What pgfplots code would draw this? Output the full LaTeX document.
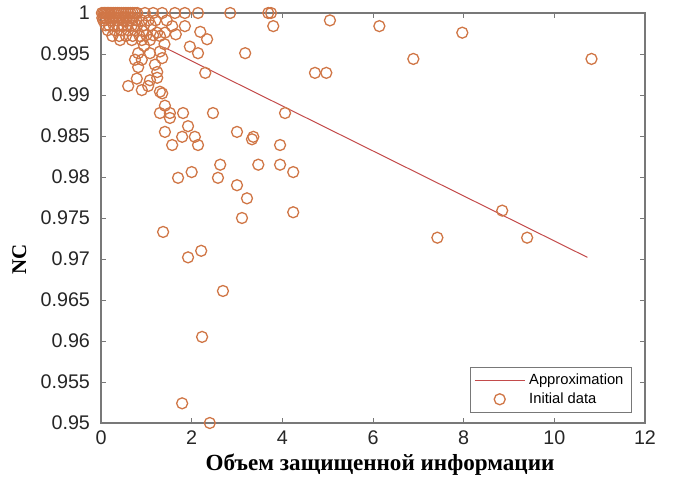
\documentclass[border=0pt]{standalone}
\usepackage{pgfplots}
\pgfplotsset{compat=1.18}
\usepackage{fontspec}
\setmainfont{Liberation Sans}
\newfontfamily\lserif{Liberation Serif}

\definecolor{dotc}{RGB}{208,118,70}
\definecolor{linec}{RGB}{195,75,75}
\definecolor{axc}{RGB}{120,120,120}

\begin{document}
\begin{tikzpicture}
\begin{axis}[
  name=ax,
  scale only axis,
  width=272bp, height=205bp,
  xmin=0, xmax=12, ymin=0.95, ymax=1,
  xtick={0,2,...,12},
  ytick={0.95,0.955,0.96,0.965,0.97,0.975,0.98,0.985,0.99,0.995,1},
  yticklabels={0.95,0.955,0.96,0.965,0.97,0.975,0.98,0.985,0.99,0.995,1},
  /pgf/number format/assume math mode=true,
  tick label style={font=\fontsize{9.9}{11}\selectfont, color=black!85},
  yticklabel style={xshift=-2bp},
  xticklabel style={yshift=-0.5bp},
  tick align=inside,
  major tick length=2.5bp,
  every tick/.style={axc, line width=0.5bp},
  axis line style={axc, line width=0.6bp},
  clip=false,
  xlabel={\lserif\bfseries Объем защищенной информации},
  ylabel={\lserif\bfseries NC},
  xlabel style={at={(axis description cs:0.513,-0.102)}, anchor=center, font=\fontsize{11.6}{13}\selectfont},
  ylabel style={at={(axis description cs:-0.150,0.398)}, anchor=center, font=\fontsize{10.5}{12}\selectfont},
  legend style={at={(rel axis cs:0.976,0.0244)}, anchor=south east,
    font=\fontsize{7.4}{8.5}\selectfont, draw=axc, line width=0.5bp,
    inner xsep=2bp, inner ysep=1.2bp, row sep=-1.5bp, cells={anchor=west}},
  legend cell align=left,
]
\addplot[linec, line width=0.5bp,
  legend image code/.code={\draw[linec, line width=0.5bp] (0bp,0bp) -- (25bp,0bp);}]
  coordinates {(1.40,0.9958) (10.73,0.9702)};
\addlegendentry{Approximation}
\addplot[only marks, mark=o, mark size=2.75bp, dotc, mark options={line width=0.65bp},
  legend image code/.code={\draw[dotc, line width=0.65bp] (12.5bp,0bp) circle (2.75bp);}]
  coordinates {
  (0.02,1) (0.05,1) (0.08,1) (0.11,1) (0.14,1) (0.17,1) (0.20,1) (0.24,1) (0.28,1)
  (0.32,1) (0.36,1) (0.40,1) (0.45,1) (0.50,1) (0.55,1) (0.60,1) (0.65,1) (0.70,1)
  (0.75,1) (0.80,1) (0.97,1) (1.15,1) (1.35,1) (1.63,1) (1.85,1) (2.14,1) (2.85,1)
  (3.69,1) (3.75,1)
  (0.03,0.9994) (0.07,0.9994) (0.12,0.9994) (0.18,0.9994) (0.25,0.9994) (0.32,0.9994)
  (0.40,0.9994) (0.48,0.9994) (0.56,0.9994) (0.64,0.9994) (0.72,0.9994)
  (0.05,0.9991) (0.22,0.9991) (0.35,0.9991) (0.50,0.9991) (0.62,0.9991) (0.78,0.9991)
  (0.90,0.9991) (1.05,0.9991) (1.20,0.9991) (1.45,0.9991)
  (0.10,0.9985) (0.18,0.9985) (0.28,0.9985) (0.38,0.9985) (0.48,0.9985) (0.58,0.9985)
  (0.68,0.9985) (0.80,0.9985) (0.95,0.9985) (1.10,0.9985) (1.57,0.9984) (1.85,0.9984)
  (0.15,0.9979) (0.30,0.9979) (0.45,0.9979) (0.60,0.9979) (0.75,0.9979) (0.92,0.9978)
  (1.24,0.9976) (1.41,0.9976) (2.19,0.9977)
  (0.25,0.9972) (0.40,0.9972) (0.55,0.9972) (0.70,0.9972) (0.85,0.9972) (1.00,0.9973)
  (1.15,0.9973) (1.30,0.9972) (1.65,0.9974)
  (0.42,0.9967) (0.68,0.9967) (0.90,0.9967) (1.08,0.9967) (2.34,0.9968)
  (0.95,0.9960) (1.40,0.9962) (1.96,0.9959)
  (0.82,0.9951) (1.08,0.9951) (1.30,0.9953) (2.14,0.9951) (3.18,0.9951)
  (0.75,0.9943) (0.90,0.9943) (1.35,0.9945) (6.89,0.9944) (10.82,0.9944)
  (0.82,0.9934) (1.19,0.9937) (1.24,0.9928) (2.30,0.9927) (4.72,0.9927) (4.97,0.9927)
  (1.24,0.9921) (1.08,0.9918) (0.79,0.9920) (0.60,0.9911) (1.04,0.9911) (0.90,0.9906)
  (1.30,0.9904) (1.35,0.9902)
  (1.41,0.9887) (1.30,0.9878) (1.52,0.9878) (1.81,0.9878) (2.47,0.9878) (4.06,0.9878)
  (1.52,0.9872) (1.92,0.9862)
  (1.41,0.9855) (1.79,0.9849) (2.07,0.9849) (3.00,0.9855) (3.36,0.9849)
  (1.57,0.9839) (2.14,0.9839) (3.95,0.9839) (3.33,0.9846)
  (2.63,0.9815) (3.47,0.9815) (3.95,0.9815) (4.24,0.9806) (2.00,0.9806)
  (1.70,0.9799) (2.58,0.9799) (3.00,0.9790) (3.22,0.9774)
  (4.24,0.9757) (3.11,0.9750) (8.85,0.9759) (9.40,0.9726) (7.42,0.9726)
  (1.37,0.9733) (2.21,0.9710) (1.92,0.9702)
  (2.69,0.9661) (2.23,0.9605) (1.79,0.9524) (2.40,0.9500)
  (5.05,0.9991) (6.14,0.9984) (7.97,0.9976) (3.80,0.9984)
  };
\addlegendentry{Initial data}
\end{axis}
\pgfresetboundingbox
\path ([shift={(-50.5bp,-27.5bp)}]ax.south west) rectangle ([shift={(15bp,6.5bp)}]ax.north east);
\end{tikzpicture}
\end{document}
